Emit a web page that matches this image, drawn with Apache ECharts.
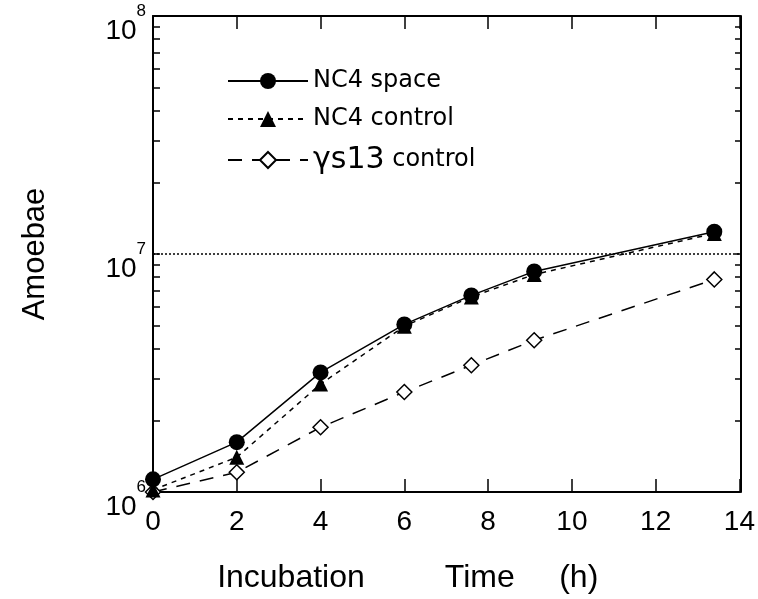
<!DOCTYPE html>
<html>
<head>
<meta charset="utf-8">
<script src="https://cdn.jsdelivr.net/npm/echarts@6/dist/echarts.min.js"></script>
<style>
  html, body { margin: 0; padding: 0; background: #fff; }
  #chart { width: 758px; height: 599px; }
</style>
</head>
<body>
<div id="chart"></div>
<script>
// incubation time (h) for each sample
const hours = [0, 2, 4, 6, 7.6, 9.1, 13.4]
// amoebae counts
const nc4Space = [1.13e6, 1.62e6, 3.18e6, 5.06e6, 6.7e6, 8.45e6, 1.24e7]
const nc4Control = [1.02e6, 1.4e6, 2.84e6, 4.97e6, 6.6e6, 8.2e6, 1.22e7]
const ys13Control = [1.0e6, 1.21e6, 1.87e6, 2.63e6, 3.41e6, 4.34e6, 7.82e6]
const xTicks = [0, 2, 4, 6, 8, 10, 12, 14]
const yDecades = [1e6, 1e7, 1e8]
const yMinor = [1e6, 2e6, 3e6, 4e6, 5e6, 6e6, 7e6, 8e6, 9e6,
  1e7, 2e7, 3e7, 4e7, 5e7, 6e7, 7e7, 8e7, 9e7, 1e8]

const FONT = 'Liberation Sans'
const LEGEND_FONT = 'DejaVu Sans'
const W = 758
const chart = echarts.init(document.getElementById('chart'))

const pairs = (ys) => hours.map((h, i) => [h, ys[i]])
const plotBox = { left: 153, right: 17, top: 16, bottom: 106 }
const black = { color: '#000', width: 1.5 }

chart.setOption({
  animation: false,
  backgroundColor: '#fff',
  grid: [plotBox],
  legend: {
    orient: 'vertical',
    left: 222,
    top: 64,
    itemGap: 14,
    itemWidth: 80,
    itemHeight: 20,
    textStyle: {
      fontFamily: LEGEND_FONT, fontSize: 24, color: '#000',
      rich: {
        g: { fontFamily: LEGEND_FONT, fontSize: 30, color: '#000' },
        n: { fontFamily: LEGEND_FONT, fontSize: 24, color: '#000' }
      }
    },
    formatter: (name) => name.startsWith('γ')
      ? '{g|γs13} {n|control}'
      : name,
    data: ['NC4 space', 'NC4 control', 'γs13 control']
  },
  xAxis: [{
    type: 'value',
    min: 0,
    max: 14,
    interval: 2,
    name: 'Incubation         Time     (h)',
    nameLocation: 'middle',
    nameGap: 70,
    nameTextStyle: { fontFamily: FONT, fontSize: 32, color: '#000', padding: [0, 77, 0, 0] },
    axisLine: { lineStyle: { color: '#000', width: 2 } },
    axisTick: { inside: true, length: 13, lineStyle: black },
    axisLabel: {
      fontFamily: FONT, fontSize: 28, color: '#000', margin: 16,
      customValues: xTicks
    },
    splitLine: { show: false }
  }, {
    type: 'value',
    position: 'top',
    min: 0,
    max: 14,
    interval: 2,
    axisLine: { lineStyle: { color: '#000', width: 2 } },
    axisTick: { inside: true, length: 13, lineStyle: black },
    axisLabel: { show: false },
    splitLine: { show: false }
  }],
  yAxis: [{
    type: 'log',
    logBase: 10,
    min: 1e6,
    max: 1e8,
    name: 'Amoebae',
    nameLocation: 'middle',
    nameGap: 102,
    nameTextStyle: { fontFamily: FONT, fontSize: 31, color: '#000' },
    axisLine: { lineStyle: { color: '#000', width: 2 } },
    axisTick: { inside: true, length: 7, customValues: yMinor, lineStyle: black },
    axisLabel: {
      customValues: yDecades,
      margin: 7,
      padding: [16, 0, 0, 0],
      formatter: (v) => '{b|10}{s|' + Math.round(Math.log10(v)) + '}',
      rich: {
        b: { fontFamily: FONT, fontSize: 28, lineHeight: 42, color: '#000', verticalAlign: 'bottom' },
        s: { fontFamily: FONT, fontSize: 17, lineHeight: 17, color: '#000', verticalAlign: 'top' }
      }
    },
    splitLine: { show: false }
  }, {
    // right-hand frame: a left axis pushed across the plot
    type: 'log',
    logBase: 10,
    position: 'left',
    offset: -(W - plotBox.left - plotBox.right),
    min: 1e6,
    max: 1e8,
    axisLine: { onZero: false, lineStyle: { color: '#000', width: 2 } },
    axisTick: { inside: false, length: 6, customValues: yMinor, lineStyle: black },
    axisLabel: { show: false },
    splitLine: { show: false }
  }],
  series: [{
    name: 'γs13 control',
    type: 'line',
    data: pairs(ys13Control),
    symbol: 'diamond',
    symbolSize: 15,
    itemStyle: { color: '#fff', borderColor: '#000', borderWidth: 1.5 },
    lineStyle: { color: '#000', width: 1.5, type: [14, 10] }
  }, {
    name: 'NC4 control',
    type: 'line',
    data: pairs(nc4Control),
    symbol: 'triangle',
    symbolSize: 15,
    itemStyle: { color: '#000' },
    lineStyle: { color: '#000', width: 1.5, type: [5, 5] }
  }, {
    name: 'NC4 space',
    type: 'line',
    data: pairs(nc4Space),
    symbol: 'circle',
    symbolSize: 16,
    itemStyle: { color: '#000' },
    lineStyle: { color: '#000', width: 1.5, type: 'solid' },
    markLine: {
      silent: true,
      symbol: 'none',
      label: { show: false },
      lineStyle: { color: '#000', width: 1.5, type: [2, 2] },
      data: [{ yAxis: 1e7 }]
    }
  }]
})
</script>
</body>
</html>
